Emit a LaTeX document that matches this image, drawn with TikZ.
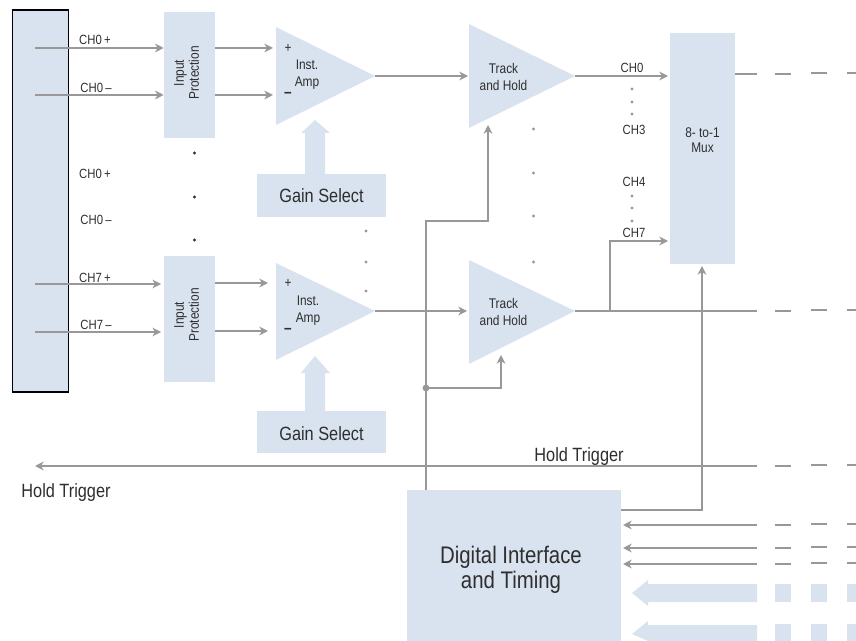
\documentclass[tikz,border=0pt]{standalone}
\usepackage{fontspec}
\setmainfont[FakeStretch=0.85]{Liberation Sans}
\usetikzlibrary{arrows.meta}
\definecolor{blk}{HTML}{D9E3EF}
\definecolor{wire}{HTML}{989898}
\definecolor{ink}{HTML}{2E2E2E}
\tikzset{
  blockbox/.style={fill=blk,draw=none,inner sep=0pt,align=center,text=ink},
  tri/.style={fill=blk,draw=none},
  sig/.style={draw=wire,line width=1.75pt},
  sigarrow/.style={sig,-{Stealth[length=6.5pt,width=6.5pt,inset=2pt]}},
  lab/.style={inner sep=0pt,text=ink,align=center,font=\fontsize{10}{12.75}\selectfont},
  biglab/.style={inner sep=0pt,text=ink,align=center,font=\fontsize{14.4}{17}\selectfont},
  blackdot/.style={fill=ink,draw=none},
  greydot/.style={fill=wire,draw=none},
}
\newcommand{\tailwire}[1]{%
  \draw[sig] (775,#1) -- (791,#1) (811,#1-1) -- (827,#1-1) (847,#1-1) -- (856,#1-1);}
\begin{document}
\begin{tikzpicture}[x=0.75pt,y=-0.75pt]
\useasboundingbox (0,0) rectangle (856,641);

% blocks
\node[blockbox,draw=black,line width=1pt,minimum width=42pt,minimum height=286.5pt] (conn) at (40.75,201) {};
\node[blockbox,minimum width=38.25pt,minimum height=94.5pt] (ip1) at (189.5,75) {};
\node[blockbox,minimum width=38.25pt,minimum height=94.5pt] (ip2) at (189.5,319) {};
\node[lab,rotate=90,font=\fontsize{10.5}{11.25}\selectfont] (ip1t) at (186.5,73) {Input\\Protection};
\node[lab,rotate=90,font=\fontsize{10.5}{11.25}\selectfont] (ip2t) at (186.5,315) {Input\\Protection};
\node[blockbox,minimum width=96.75pt,minimum height=32.25pt] (gs1) at (321.5,195.5) {};
\node[blockbox,minimum width=96.75pt,minimum height=31.5pt] (gs2) at (321.5,432) {};
\node[biglab] (gs1t) at (321.5,195.5) {Gain Select};
\node[biglab] (gs2t) at (321.5,433.5) {Gain Select};
\node[blockbox,minimum width=48.75pt,minimum height=173.25pt] (mux) at (702.5,148.5) {};
\node[blockbox,minimum width=160.5pt,minimum height=113.25pt,anchor=north west] (dig) at (407,490) {};
\node[lab,font=\fontsize{10.5}{11.5}\selectfont] (muxt) at (702.5,140) {8- to-1\\Mux};
\node[inner sep=0pt,text=ink,align=center,font=\fontsize{18}{18.75}\selectfont] (digt) at (511,570) {Digital Interface\\and Timing};

% triangles
\coordinate (a1n) at (276,27); \coordinate (a1s) at (276,125); \coordinate (a1t) at (375,76);
\coordinate (a2n) at (276,263); \coordinate (a2s) at (276,360); \coordinate (a2t) at (375,311);
\coordinate (t1n) at (469,24); \coordinate (t1s) at (469,128); \coordinate (t1t) at (575,76);
\coordinate (t2n) at (469,260); \coordinate (t2s) at (469,364); \coordinate (t2t) at (575,311);
\fill[tri] (a1n) -- (a1t) -- (a1s) -- cycle;
\fill[tri] (a2n) -- (a2t) -- (a2s) -- cycle;
\fill[tri] (t1n) -- (t1t) -- (t1s) -- cycle;
\fill[tri] (t2n) -- (t2t) -- (t2s) -- cycle;

% block arrows
\fill[tri] (305,174) -- (305,133) -- (301,133) -- (315,120) -- (330,133) -- (325,133) -- (325,174) -- cycle;
\fill[tri] (305,411) -- (305,373) -- (301,373) -- (315,356) -- (330,373) -- (325,373) -- (325,411) -- cycle;
\fill[tri] (757,584) -- (648,584) -- (648,580) -- (632,593) -- (648,606) -- (648,602) -- (757,602) -- cycle;
\fill[tri] (757,625) -- (648,625) -- (648,621) -- (632,634) -- (648,641) -- (757,641) -- cycle;
\foreach \xa/\xb in {775/791,811/827,847/856}{
  \fill[tri] (\xa,584) rectangle (\xb,602);
  \fill[tri] (\xa,624) rectangle (\xb,641);
}

% input wires
\coordinate (p0a) at (35,48); \coordinate (m0a) at (35,95);
\coordinate (p7a) at (35,284); \coordinate (m7a) at (35,332);
\draw[sigarrow] (p0a) -- (ip1.west |- p0a);
\draw[sigarrow] (m0a) -- (ip1.west |- m0a);
\draw[sigarrow] (p7a) -- ([xshift=-2pt]ip2.west |- p7a);
\draw[sigarrow] (m7a) -- ([xshift=-2pt]ip2.west |- m7a);
\coordinate (a1p) at (273,48); \coordinate (a1m) at (273,95);
\coordinate (a2p) at (268,283); \coordinate (a2m) at (268,331);
\draw[sigarrow] (ip1.east |- a1p) -- (a1p);
\draw[sigarrow] (ip1.east |- a1m) -- (a1m);
\draw[sigarrow] (ip2.east |- a2p) -- (a2p);
\draw[sigarrow] (ip2.east |- a2m) -- (a2m);

% signal path
\coordinate (t1i) at (468,76); \coordinate (t2i) at (467,311);
\coordinate (m0) at (668,76); \coordinate (m7) at (668,241);
\coordinate (br) at (610,311);
\draw[sigarrow] (a1t) -- (t1i);
\draw[sigarrow] (a2t) -- (t2i);
\draw[sigarrow] (t1t) -- (m0);
\draw[sigarrow] (br) |- (m7);
\coordinate (o1) at (757,74); \coordinate (o2) at (757,311);
\draw[sig] (mux.east |- o1) -- (o1);
\draw[sig] (t2t) -- (o2);
\tailwire{74}
\tailwire{311}

% control wires
\coordinate (t1c) at (488,125); \coordinate (t2c) at (501,355); \coordinate (jn) at (426,388);
\coordinate (mc) at (702,266);
\draw[sigarrow] (426,490) -- (426,221) -| (t1c);
\draw[sigarrow] (jn) -| (t2c);
\fill[wire] (jn) circle (2.6pt);
\coordinate (dm) at (621,510);
\draw[sigarrow] (dm) -| (mc);

% hold trigger
\coordinate (hr) at (757,466); \coordinate (hl) at (35,466);
\draw[sigarrow] (hr) -- (hl);
\tailwire{466}

% digital inputs
\foreach \y in {525,548,564}{
  \coordinate (di) at (757,\y);
  \draw[sigarrow] (di) -- (623,\y);
  \tailwire{\y}
}

% dots
\foreach \y in {153,197,240} \fill[blackdot] (194.5,\y) circle (1.2pt);
\foreach \x/\y in {366/231,366/262,366/291,533.5/129,533.5/173,533.5/216,533.5/262,632/89,632/102,632/114,632/196,632/208,632/221}
  \fill[greydot] (\x,\y) circle (1.3pt);

% labels
\node[lab] (l1) at (95,39.5) {CH0\,+};
\node[lab] (l2) at (96,88) {CH0\,–};
\node[lab] (l3) at (95,174) {CH0\,+};
\node[lab] (l4) at (96,220) {CH0\,–};
\node[lab] (l5) at (95,277.5) {CH7\,+};
\node[lab] (l6) at (96,324.5) {CH7\,–};
\node[lab] (c0) at (632,68) {CH0};
\node[lab] (c3) at (634,130) {CH3};
\node[lab] (c4) at (634,182) {CH4};
\node[lab] (c7) at (634,232.5) {CH7};
\node[lab,font=\fontsize{10.5}{12.75}\selectfont] (th1) at (503.5,76.5) {Track\\and Hold};
\node[lab,font=\fontsize{10.5}{12.75}\selectfont] (th2) at (503.5,311.5) {Track\\and Hold};
\node[lab,font=\fontsize{10.5}{12.75}\selectfont] (ia1) at (307,74.5) {Inst.\\Amp};
\node[lab,font=\fontsize{10.5}{12.75}\selectfont] (ia2) at (308,310.5) {Inst.\\Amp};
\node[lab,font=\fontsize{10.5}{12}\selectfont] (p1) at (288,48) {+};
\node[lab,font=\bfseries\fontsize{12}{12}\selectfont] (n1) at (288,95) {–};
\node[lab,font=\fontsize{10.5}{12}\selectfont] (p2) at (288,283) {+};
\node[lab,font=\bfseries\fontsize{12}{12}\selectfont] (n2) at (288,331) {–};
\node[biglab] (h1) at (579,456.5) {Hold Trigger};
\node[biglab] (h2) at (66,492.5) {Hold Trigger};
\end{tikzpicture}
\end{document}
